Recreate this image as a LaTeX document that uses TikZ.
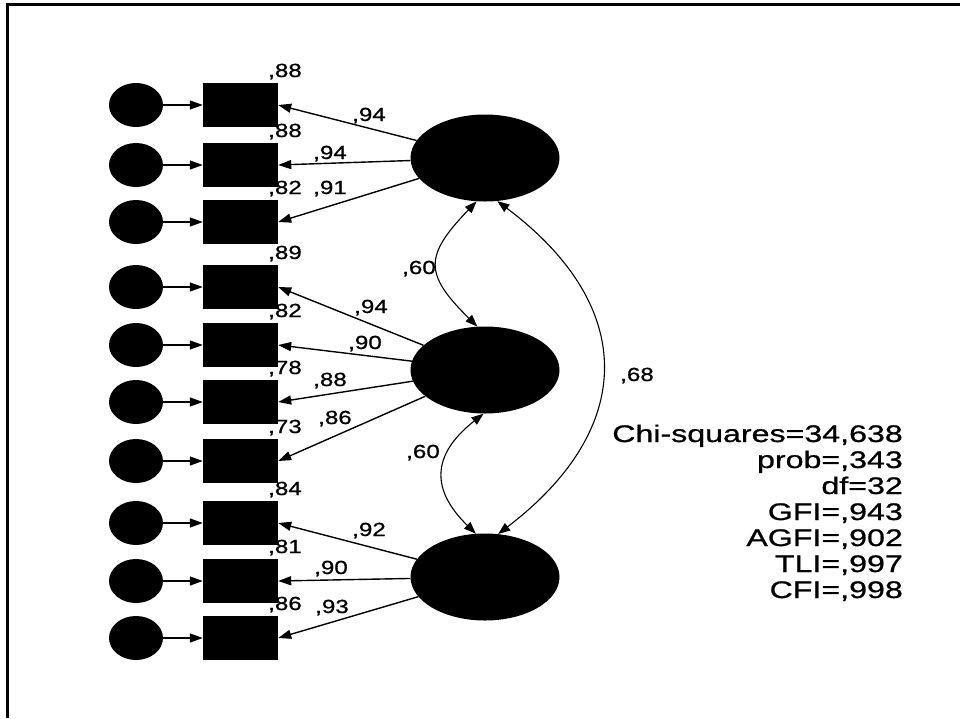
\documentclass[tikz,border=0pt]{standalone}
\usepackage{fontspec}
\setmainfont{Liberation Sans}
\newfontfamily\lblfont{Liberation Sans}[FakeStretch=1.27,FakeBold=0.8]
\newfontfamily\statfont{Liberation Sans}[FakeStretch=1.34,FakeBold=0.8]
\usetikzlibrary{shapes.geometric,arrows.meta}
\begin{document}
\begin{tikzpicture}[x=1pt,y=-1pt,
  err/.style={ellipse,fill=black,minimum width=54pt,minimum height=44pt,inner sep=0pt},
  obs/.style={rectangle,fill=black,minimum width=75pt,minimum height=44pt,inner sep=0pt},
  lat/.style={ellipse,fill=black,minimum width=149pt,minimum height=87pt,inner sep=0pt},
  tipd/.style={-{Triangle[length=13pt,width=9pt]},line width=1.4pt},
  cov/.style={{Triangle[length=12pt,width=9pt]}-{Triangle[length=12pt,width=9pt]},line width=1.1pt},
  lbl/.style={font=\lblfont\fontsize{19}{22}\selectfont,inner sep=0pt,anchor=base},
  stat/.style={font=\statfont\fontsize{24}{26}\selectfont,inner sep=0pt,anchor=base east}]
\useasboundingbox (0,0) rectangle (960,718);
\fill[white] (0,0) rectangle (960,718);
\draw[line width=3pt] (7,718) -- (7,4) -- (960,4);

% latent variables
\node[lat] (l1) at (485,158) {};
\node[lat] (l2) at (485,370) {};
\node[lat] (l3) at (485,577) {};

% observed variables with error terms
\foreach \i/\y in {1/105,2/165,3/222,4/287,5/345,6/402,7/461,8/523,9/581,10/638}{
  \node[err] (e\i) at (136,\y) {};
  \node[obs] (v\i) at (240.5,\y) {};
  \draw[tipd] (e\i) -- (v\i);
}

% loadings
\foreach \i in {1,2,3}{\draw[tipd] (l1) -- (v\i.east);}
\foreach \i in {4,5,6,7}{\draw[tipd] (l2) -- (v\i.east);}
\foreach \i in {8,9,10}{\draw[tipd] (l3) -- (v\i.east);}

% covariances
\draw[cov] (l1.259) .. controls (424,256) and (424,274) .. (l2.100);
\draw[cov] (l2.268) .. controls (431,455) and (431,490) .. (l3.102);
\draw[cov] (l1.286) .. controls (637,306) and (637,428) .. (l3.73);

% squared multiple correlations
\foreach \i/\y/\t in {1/105/88,2/165/88,3/222/82,4/287/89,5/345/82,6/402/78,7/461/73,8/523/84,9/581/81,10/638/86}{
  \node[lbl] (r\i) at (285,\y-28) {,\t};
}

% loading labels
\node[lbl] (a1) at (369,121) {,94};
\node[lbl] (a2) at (330,159) {,94};
\node[lbl] (a3) at (330,194) {,91};
\node[lbl] (a4) at (371,313) {,94};
\node[lbl] (a5) at (365,349) {,90};
\node[lbl] (a6) at (330,386) {,88};
\node[lbl] (a7) at (335,424) {,86};
\node[lbl] (a8) at (369,536) {,92};
\node[lbl] (a9) at (331,574) {,90};
\node[lbl] (a10) at (332,613) {,93};

% covariance labels
\node[lbl] (c1) at (419,274) {,60};
\node[lbl] (c2) at (423,458) {,60};
\node[lbl] (c3) at (637,381) {,68};

% fit statistics
\node[stat] (s1) at (903,442) {Chi-squares=34,638};
\node[stat] (s2) at (903,468) {prob=,343};
\node[stat] (s3) at (903,494) {df=32};
\node[stat] (s4) at (903,520) {GFI=,943};
\node[stat] (s5) at (903,546) {AGFI=,902};
\node[stat] (s6) at (903,572) {TLI=,997};
\node[stat] (s7) at (903,598) {CFI=,998};
\end{tikzpicture}
\end{document}
